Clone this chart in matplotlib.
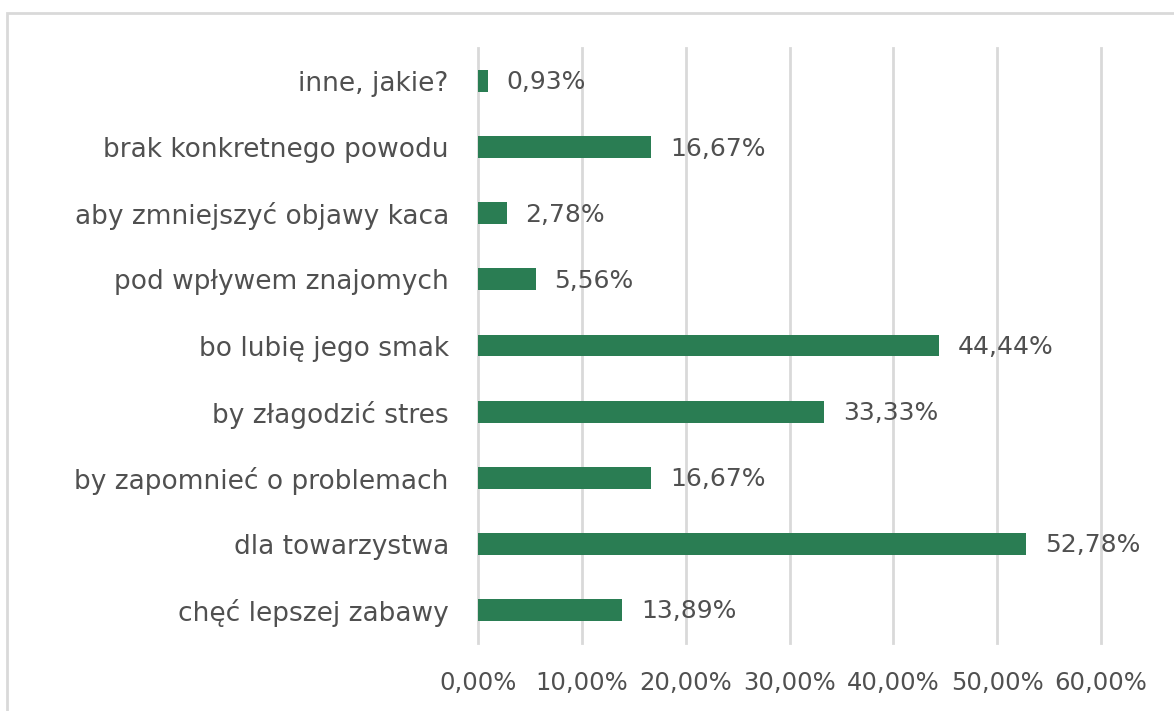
import matplotlib
matplotlib.use("Agg")
import matplotlib.pyplot as plt
from matplotlib.patches import Rectangle

categories = ["chęć lepszej zabawy", "dla towarzystwa", "by zapomnieć o problemach",
              "by złagodzić stres", "bo lubię jego smak", "pod wpływem znajomych",
              "aby zmniejszyć objawy kaca", "brak konkretnego powodu", "inne, jakie?"]
values = [13.89, 52.78, 16.67, 33.33, 44.44, 5.56, 2.78, 16.67, 0.93]
xticks = [0, 10, 20, 30, 40, 50, 60]
xtick_labels = ["0,00%", "10,00%", "20,00%", "30,00%", "40,00%", "50,00%", "60,00%"]

plt.rcParams['font.family'] = ['DejaVu Sans']
text_color = "#505050"
bar_color = "#2a7d53"

fig = plt.figure(figsize=(11.74, 7.11), dpi=100)
fig.patches.append(Rectangle((7/1174, -0.1), 1.2, 1 - 13/711 + 0.1, transform=fig.transFigure,
                             fill=False, edgecolor="#d9d9d9", linewidth=2))
ax = fig.add_axes([478/1174, 1 - 643/711, (1101 - 478)/1174, (643 - 48)/711])

y = list(range(len(categories)))
ax.barh(y, values, height=0.33, color=bar_color, zorder=3)
for yi, v in zip(y, values):
    ax.annotate(f"{v:.2f}%".replace(".", ","), (v, yi), xytext=(13.5, -1), textcoords="offset points",
                va="center", ha="left", fontsize=18, color=text_color)

ax.set_xlim(0, 60)
ax.set_ylim(-0.5, len(categories) - 0.5)
ax.set_xticks(xticks)
ax.set_xticklabels(xtick_labels)
ax.set_yticks(y)
ax.set_yticklabels(categories)
ax.tick_params(axis="both", length=0, labelsize=17.5, labelcolor=text_color)
ax.tick_params(axis="y", pad=21, labelsize=19)
ax.tick_params(axis="x", pad=20)
ax.grid(axis="x", color="#d9d9d9", linewidth=2, zorder=0)
for gl in ax.get_xgridlines():
    gl.set_clip_on(False)
for s in ax.spines.values():
    s.set_visible(False)

fig.savefig("out.png", dpi=100)
